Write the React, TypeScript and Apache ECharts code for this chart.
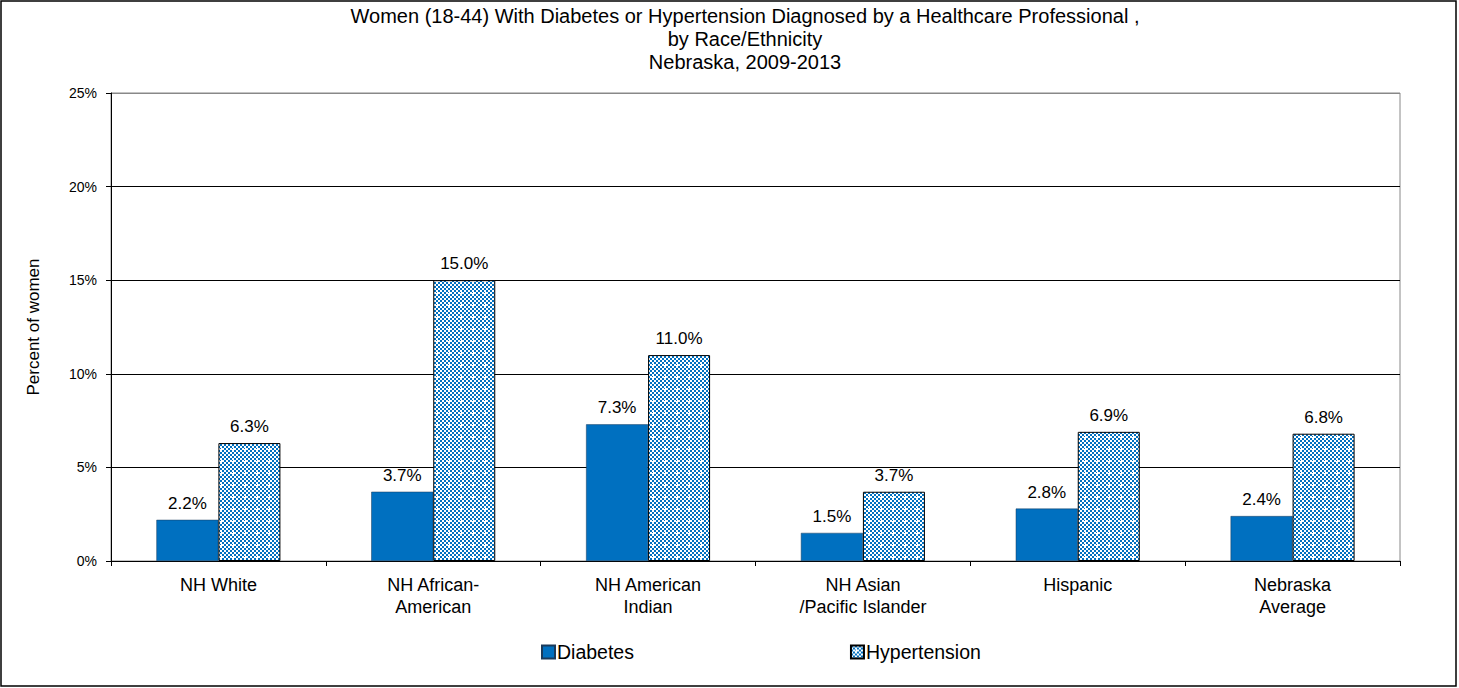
import React, { useEffect, useRef } from "react";
import * as echarts from "echarts";

const categories = [
  "NH White",
  "NH African-\nAmerican",
  "NH American\nIndian",
  "NH Asian\n/Pacific Islander",
  "Hispanic",
  "Nebraska\nAverage",
];
const diabetes = [2.2, 3.7, 7.3, 1.5, 2.8, 2.4];
const hypertension = [6.3, 15.0, 11.0, 3.7, 6.9, 6.8];
const seriesNames = ["Diabetes", "Hypertension"];
const titleLines = [
  "Women (18-44) With Diabetes or Hypertension Diagnosed by a Healthcare Professional ,",
  "by Race/Ethnicity",
  "Nebraska, 2009-2013",
];
const yAxisTitle = "Percent of women";

const FONT = "Liberation Sans, Arial, sans-serif";
const BLUE = "#0070C0";

function makePattern(): HTMLCanvasElement {
  const n = 12;
  const c = document.createElement("canvas");
  c.width = n;
  c.height = n;
  const ctx = c.getContext("2d")!;
  ctx.fillStyle = "#ffffff";
  ctx.fillRect(0, 0, n, n);
  ctx.fillStyle = BLUE;
  for (let i = 0; i < n / 2; i++) {
    for (let j = 0; j < n / 2; j++) {
      if ((i + j) % 2 === 0) ctx.fillRect(i * 2, j * 2, 2, 2);
    }
  }
  ctx.fillStyle = "#ffffff";
  ctx.fillRect(5, 3, 1, 5);
  ctx.fillRect(3, 5, 5, 1);
  return c;
}

export default function App() {
  const ref = useRef<HTMLDivElement>(null);
  useEffect(() => {
    document.body.style.margin = "0";
    const chart = echarts.init(ref.current!, null, { renderer: "svg" });
    const pattern = makePattern();
    const labelCfg = {
      show: true,
      position: "top",
      distance: 8,
      color: "#000",
      fontFamily: FONT,
      fontSize: 17,
      formatter: (p: any) => Number(p.value).toFixed(1) + "%",
    };
    chart.setOption({
      animation: false,
      backgroundColor: "#fff",
      title: {
        text: titleLines.join("\n"),
        left: 740,
        top: -1,
        textAlign: "center",
        textStyle: {
          fontFamily: FONT,
          fontSize: 20,
          fontWeight: "normal",
          color: "#000",
          lineHeight: 23,
        },
      },
      graphic: [
        {
          type: "rect",
          shape: { x: 1, y: 1, width: 1455, height: 685 },
          style: { fill: "none", stroke: "#000", lineWidth: 1.5 },
          silent: true,
        },
        {
          type: "text",
          x: 33,
          y: 327,
          rotation: Math.PI / 2,
          style: {
            text: yAxisTitle,
            fontFamily: FONT,
            fontSize: 17,
            fill: "#000",
            textAlign: "center",
            textVerticalAlign: "middle",
          },
        },
      ],
      legend: {
        left: 536,
        top: 637,
        itemWidth: 13,
        itemHeight: 13,
        itemGap: 216,
        icon: "rect",
        textStyle: { fontFamily: FONT, fontSize: 19.5, color: "#000", padding: [0, 0, 0, -3] },
        data: seriesNames,
      },
      grid: {
        left: 111,
        right: 59,
        top: 93,
        bottom: 127,
        show: true,
        borderColor: "#888",
        borderWidth: 1,
        containLabel: false,
      },
      xAxis: {
        type: "category",
        data: categories,
        axisLine: { lineStyle: { color: "#000", width: 1 } },
        axisTick: { show: true, length: 5, lineStyle: { color: "#000" } },
        axisLabel: {
          color: "#000",
          fontFamily: FONT,
          fontSize: 18,
          lineHeight: 22,
          margin: 13,
          interval: 0,
        },
      },
      yAxis: {
        type: "value",
        min: 0,
        max: 25,
        interval: 5,
        axisLine: { show: true, lineStyle: { color: "#000", width: 1 } },
        axisTick: { show: true, length: 5, lineStyle: { color: "#000" } },
        axisLabel: {
          color: "#000",
          fontFamily: FONT,
          fontSize: 14,
          margin: 14,
          formatter: "{value}%",
        },
        splitLine: {
          show: true,
          lineStyle: { color: ["#000", "#000", "#000", "#000", "#000", "#888"], width: 1 },
        },
      },
      series: [
        {
          name: seriesNames[0],
          type: "bar",
          data: diabetes,
          barWidth: 62,
          barGap: "0%",
          itemStyle: { color: BLUE, borderColor: "#1a3a5a", borderWidth: 0.5 },
          label: labelCfg,
        },
        {
          name: seriesNames[1],
          type: "bar",
          data: hypertension,
          barWidth: 62,
          barGap: "0%",
          itemStyle: {
            color: { image: pattern, repeat: "repeat" },
            borderColor: "#000",
            borderWidth: 1,
          },
          label: labelCfg,
        },
      ],
    });
    return () => chart.dispose();
  }, []);
  return <div ref={ref} style={{ width: 1459, height: 688 }} />;
}
